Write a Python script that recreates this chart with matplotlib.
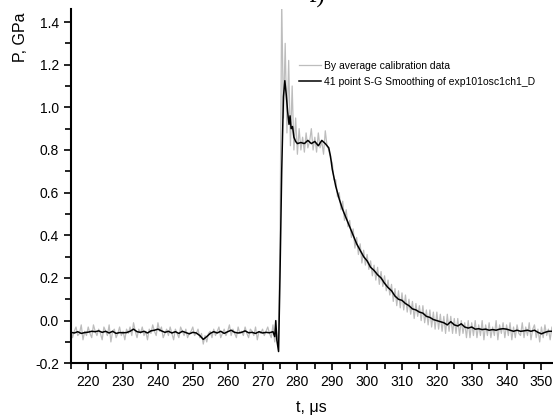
import numpy as np
import matplotlib.pyplot as plt
from matplotlib.ticker import MultipleLocator

# --- DATOS ---
# señal cruda: una muestra cada 0.5 us desde t = 215 us
T0_RAW = 215.0
DT_RAW = 0.5
p_raw = [
    -0.04, -0.08, -0.05, -0.03, -0.07, -0.06, -0.02, -0.09, -0.05, -0.07,
    -0.03, -0.06, -0.08, -0.02, -0.05, -0.07, -0.04, -0.06, -0.09, -0.03,
    -0.05, -0.07, -0.02, -0.10, -0.05, -0.04, -0.08, -0.06, -0.03, -0.07,
    -0.05, -0.09, -0.04, -0.06, -0.03, -0.07, -0.01, -0.05, -0.08, -0.04,
    -0.06, -0.03, -0.07, -0.05, -0.09, -0.04, -0.06, -0.02, -0.05, -0.07,
    -0.01, -0.05, -0.03, -0.08, -0.06, -0.04, -0.07, -0.03, -0.06, -0.09,
    -0.04, -0.06, -0.08, -0.03, -0.05, -0.07, -0.04, -0.08, -0.06, -0.05,
    -0.03, -0.07, -0.06, -0.04, -0.08, -0.06, -0.11, -0.07, -0.10, -0.06,
    -0.05, -0.08, -0.04, -0.07, -0.05, -0.03, -0.08, -0.06, -0.04, -0.07,
    -0.05, -0.02, -0.07, -0.04, -0.06, -0.08, -0.03, -0.06, -0.05, -0.07,
    -0.03, -0.06, -0.08, -0.04, -0.05, -0.07, -0.03, -0.09, -0.05, -0.06,
    -0.04, -0.07, -0.05, -0.03, -0.06, -0.08, -0.02, -0.10, -0.05, -0.12,
    0.35, 1.50, 0.95, 1.30, 0.88, 1.22, 0.82, 1.10, 0.80, 0.95,
    0.78, 0.90, 0.80, 0.86, 0.79, 0.88, 0.81, 0.84, 0.90, 0.80,
    0.86, 0.79, 0.88, 0.81, 0.84, 0.78, 0.89, 0.82, 0.80, 0.76,
    0.74, 0.66, 0.66, 0.58, 0.60, 0.52, 0.56, 0.47, 0.52, 0.44,
    0.47, 0.39, 0.43, 0.34, 0.39, 0.31, 0.36, 0.27, 0.33, 0.26,
    0.31, 0.24, 0.28, 0.21, 0.26, 0.19, 0.25, 0.17, 0.23, 0.16,
    0.21, 0.14, 0.19, 0.12, 0.17, 0.09, 0.15, 0.07, 0.14, 0.06,
    0.13, 0.05, 0.12, 0.04, 0.10, 0.03, 0.09, 0.01, 0.08, 0.02,
    0.07, 0.00, 0.07, -0.01, 0.05, -0.02, 0.05, -0.03, 0.04, -0.04,
    0.04, -0.04, 0.03, -0.05, 0.02, -0.06, 0.03, -0.05, 0.02, -0.06,
    0.01, -0.06, 0.01, -0.07, 0.00, -0.06, -0.01, -0.08, 0.00, -0.08,
    -0.01, -0.07, 0.00, -0.08, -0.02, -0.07, 0.00, -0.09, -0.02, -0.07,
    -0.01, -0.08, -0.03, -0.07, 0.00, -0.09, -0.02, -0.06, -0.01, -0.08,
    -0.02, -0.07, -0.01, -0.09, -0.03, -0.08, -0.02, -0.06, -0.07, -0.01,
    -0.08, -0.03, -0.07, -0.01, -0.09, -0.04, -0.02, -0.08, -0.04, -0.10,
    -0.03, -0.08, -0.02, -0.07, -0.04, -0.09, -0.03, -0.07, -0.02, -0.06,
]

# señal suavizada (S-G, 41 puntos)
t_smooth = [
    215, 216, 217, 218, 219, 220, 221, 222, 223, 224,
    225, 226, 227, 228, 229, 230, 231, 232, 233, 234,
    235, 236, 237, 238, 239, 240, 241, 242, 243, 244,
    245, 246, 247, 248, 249, 250, 251, 252, 253, 254,
    255, 256, 257, 258, 259, 260, 261, 262, 263, 264,
    265, 266, 267, 268, 269, 270, 271, 272, 273, 273.5,
    273.8, 274.1, 274.6, 275.0, 275.5, 276.0, 276.4, 276.8, 277.2, 277.6,
    277.9, 278.2, 278.6, 279.0, 279.5, 280, 281, 282, 283, 284,
    285, 286, 287, 288, 289, 289.5, 290, 291, 292, 293,
    294, 295, 296, 297, 298, 299, 300, 301, 302, 303,
    304, 305, 306, 307, 308, 309, 310, 311, 312, 313,
    314, 315, 316, 317, 318, 319, 320, 321, 322, 323,
    324, 325, 326, 327, 328, 329, 330, 331, 332, 333,
    334, 335, 336, 337, 338, 339, 340, 341, 342, 343,
    344, 345, 346, 347, 348, 349, 350, 351, 352, 353,
]
p_smooth = [
    -0.055, -0.058, -0.052, -0.060, -0.056, -0.054, -0.050, -0.052, -0.048, -0.055,
    -0.050, -0.058, -0.050, -0.060, -0.056, -0.057, -0.056, -0.050, -0.040, -0.052,
    -0.055, -0.050, -0.058, -0.048, -0.045, -0.040, -0.048, -0.055, -0.050, -0.058,
    -0.052, -0.060, -0.050, -0.056, -0.062, -0.055, -0.058, -0.070, -0.088, -0.075,
    -0.060, -0.052, -0.058, -0.050, -0.060, -0.052, -0.045, -0.055, -0.058, -0.055,
    -0.048, -0.057, -0.055, -0.060, -0.052, -0.058, -0.055, -0.057, -0.052, -0.075,
    0.000, -0.090, -0.145, 0.200, 0.700, 1.050, 1.125, 1.060, 0.980, 0.920,
    0.960, 0.900, 0.910, 0.860, 0.840, 0.830, 0.835, 0.830, 0.845, 0.830,
    0.840, 0.820, 0.845, 0.830, 0.810, 0.770, 0.710, 0.630, 0.570, 0.520,
    0.480, 0.440, 0.400, 0.360, 0.330, 0.300, 0.280, 0.250, 0.235, 0.215,
    0.200, 0.175, 0.155, 0.140, 0.115, 0.100, 0.095, 0.080, 0.070, 0.055,
    0.050, 0.040, 0.035, 0.020, 0.015, 0.005, 0.000, -0.005, -0.010, -0.020,
    -0.005, -0.020, -0.025, -0.015, -0.030, -0.035, -0.030, -0.040, -0.038, -0.042,
    -0.040, -0.045, -0.042, -0.045, -0.040, -0.038, -0.040, -0.045, -0.050, -0.045,
    -0.050, -0.048, -0.045, -0.050, -0.045, -0.055, -0.062, -0.055, -0.050, -0.050,
]

t_raw = T0_RAW + DT_RAW * np.arange(len(p_raw))

plt.rcParams['font.family'] = ['Liberation Sans', 'DejaVu Sans']

fig = plt.figure(figsize=(5.53, 4.19), dpi=100)
ax = fig.add_axes([0.128, 0.133, 0.870, 0.845])

ax.plot(t_raw, p_raw, color='#bdbdbd', lw=0.9, label='By average calibration data')
ax.plot(t_smooth, p_smooth, color='black', lw=1.1,
        label='41 point S-G Smoothing of exp101osc1ch1_D')

ax.set_xlim(215, 353)
ax.set_ylim(-0.2, 1.46)
ax.xaxis.set_major_locator(MultipleLocator(10))
ax.xaxis.set_minor_locator(MultipleLocator(5))
ax.yaxis.set_major_locator(MultipleLocator(0.2))
ax.yaxis.set_minor_locator(MultipleLocator(0.1))
ax.yaxis.set_major_formatter(plt.FuncFormatter(lambda v, _: f"{v:.1f}"))

for side in ['top', 'right']:
    ax.spines[side].set_visible(False)
for side in ['left', 'bottom']:
    ax.spines[side].set_linewidth(1.5)
ax.tick_params(which='major', direction='out', length=5, width=1.2, labelsize=10)
ax.tick_params(which='minor', direction='out', length=4, width=1.2)

ax.set_xlabel('t, μs', fontsize=11.5)
ax.set_ylabel('P, GPa', fontsize=11.5)
ax.xaxis.set_label_coords(0.5, -0.105)
ax.yaxis.set_label_coords(-0.088, 0.92)

ax.legend(loc='upper left', bbox_to_anchor=(0.455, 0.88), frameon=False,
          fontsize=7.5, handlelength=2.1, handletextpad=0.3, labelspacing=0.55)

fig.text(0.573, 0.994, 'f)', family='Liberation Serif', fontsize=18,
         ha='center', va='baseline')

fig.savefig('out.png', dpi=100)
